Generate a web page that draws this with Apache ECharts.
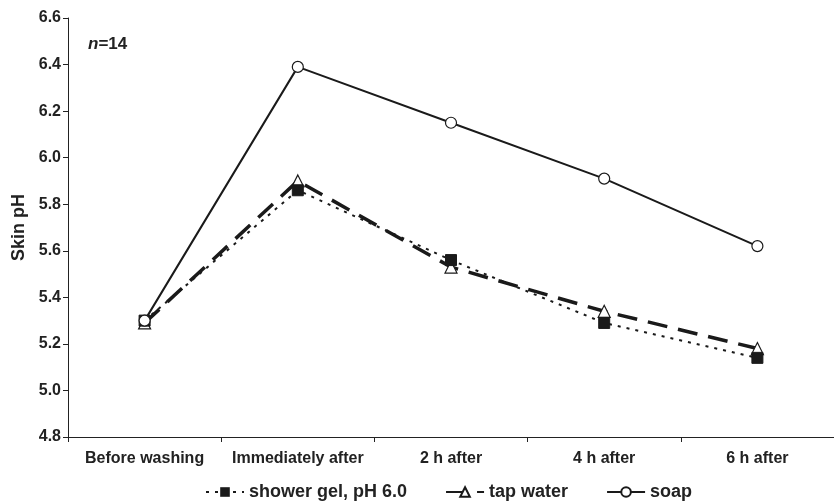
<!DOCTYPE html>
<html><head><meta charset="utf-8">
<script src="https://cdn.jsdelivr.net/npm/echarts@6/dist/echarts.min.js"></script>
<style>html,body{margin:0;padding:0;background:#fff}#c{width:834px;height:504px}</style>
</head><body><div id="c"></div>
<script>
const categories = ['Before washing', 'Immediately after', '2 h after', '4 h after', '6 h after'];
const showerGel = [5.30, 5.86, 5.56, 5.29, 5.14];
const tapWater = [5.29, 5.90, 5.53, 5.34, 5.18];
const soap = [5.30, 6.39, 6.15, 5.91, 5.62];
const seriesNames = ['shower gel, pH 6.0', 'tap water', 'soap'];

const chart = echarts.init(document.getElementById('c'), null, {renderer: 'canvas'});
const F = 'Liberation Sans, Arial, sans-serif';
chart.setOption({
  animation: false,
  backgroundColor: '#fff',
  grid: {left: 68, top: 18, width: 773, height: 419, containLabel: false},
  graphic: [{
    type: 'text', left: 88, top: 36,
    style: {rich: {i: {fontStyle: 'italic', fontWeight: 'bold', fontSize: 17, fontFamily: F, fill: '#222'},
                   b: {fontWeight: 'bold', fontSize: 17, fontFamily: F, fill: '#222'}},
            text: '{i|n}{b|=14}'}
  }],
  legend: {
    top: 478, left: 200, itemWidth: 38, itemHeight: 12, itemGap: 38,
    textStyle: {fontFamily: F, fontWeight: 'bold', fontSize: 18, color: '#222'},
    data: seriesNames
  },
  xAxis: {
    type: 'category', data: categories, boundaryGap: true,
    axisLine: {lineStyle: {color: '#222', width: 1}},
    axisTick: {show: true, length: 5, lineStyle: {color: '#222'}},
    axisLabel: {fontFamily: F, fontWeight: 'bold', fontSize: 16, color: '#222', margin: 14, interval: 0}
  },
  yAxis: {
    type: 'value', min: 4.8, max: 6.6, interval: 0.2,
    name: 'Skin pH', nameLocation: 'middle', nameGap: 40, nameRotate: 90,
    nameTextStyle: {fontFamily: F, fontWeight: 'bold', fontSize: 18, color: '#222'},
    splitLine: {show: false},
    axisLine: {show: true, lineStyle: {color: '#222', width: 1}},
    axisTick: {show: true, length: 5, lineStyle: {color: '#222'}},
    axisLabel: {fontFamily: F, fontWeight: 'bold', fontSize: 16, color: '#222', margin: 7,
                formatter: v => v.toFixed(1)}
  },
  series: [
    {name: seriesNames[0], type: 'line', data: showerGel, z: 3,
     symbol: 'rect', symbolSize: 11, itemStyle: {color: '#1a1a1a', borderColor: '#1a1a1a'},
     lineStyle: {color: '#1a1a1a', width: 2, type: [3, 6]}},
    {name: seriesNames[1], type: 'line', data: tapWater, z: 2,
     symbol: 'triangle', symbolSize: 12, itemStyle: {color: '#fff', borderColor: '#1a1a1a', borderWidth: 1.2},
     lineStyle: {color: '#1a1a1a', width: 3.5, type: [20, 11]}},
    {name: seriesNames[2], type: 'line', data: soap, z: 4,
     symbol: 'circle', symbolSize: 11, itemStyle: {color: '#fff', borderColor: '#1a1a1a', borderWidth: 1.2},
     lineStyle: {color: '#1a1a1a', width: 2, type: 'solid'}}
  ]
});
</script></body></html>
